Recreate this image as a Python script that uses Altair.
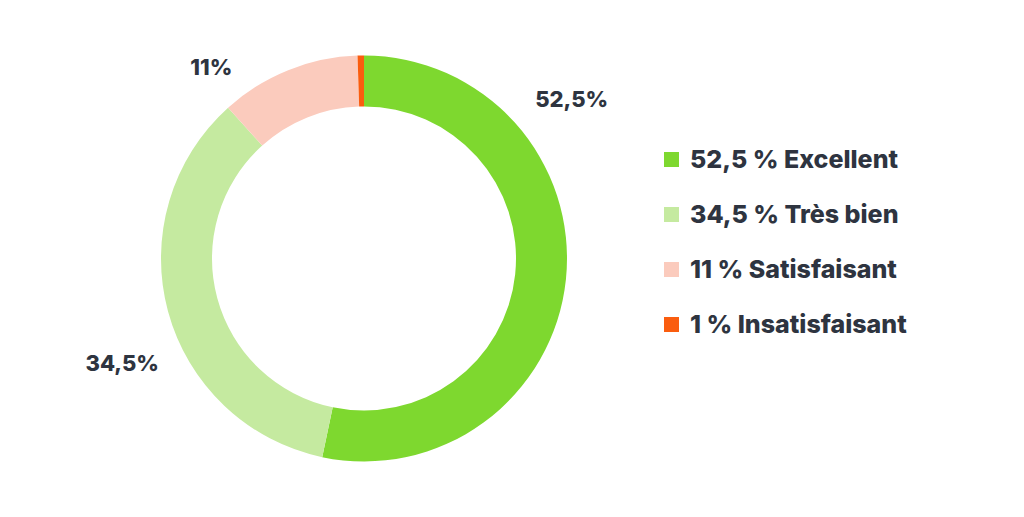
import altair as alt
import pandas as pd

categories = ["Excellent", "Très bien", "Satisfaisant", "Insatisfaisant"]
legend_labels = ["52,5 % Excellent", "34,5 % Très bien", "11 % Satisfaisant", "1 % Insatisfaisant"]
slice_values = [52.5, 34.5, 11, 0.5]
chart_labels = ["52,5%", "34,5%", "11%", ""]
colors = ["#7ed82f", "#c5eaa0", "#fbcbbd", "#fa5d0f"]

df = pd.DataFrame({
    "cat": categories,
    "legend": legend_labels,
    "value": slice_values,
    "label": chart_labels,
    "order": list(range(len(categories))),
})
total = float(sum(slice_values))

FONT = "Inter"
WEIGHT = 800
TEXT_COLOR = "#2e3440"
CX, CY = 356, 250.5

base = alt.Chart(df).transform_stack(
    stack="value", groupby=[], as_=["v0", "v1"], sort=[alt.SortField("order")]
).transform_calculate(mid="(datum.v0 + datum.v1) / 2")

theta_scale = alt.Scale(domain=[0, total])

arc = base.mark_arc(radius=203, innerRadius=152, stroke=None).encode(
    theta=alt.Theta("v0:Q", scale=theta_scale),
    theta2="v1:Q",
    color=alt.Color(
        "legend:N",
        scale=alt.Scale(domain=legend_labels, range=colors),
        sort=legend_labels,
        legend=alt.Legend(
            title=None,
            orient="none",
            legendX=651,
            legendY=139,
            symbolType="square",
            symbolSize=225,
            symbolStrokeWidth=0,
            labelFont=FONT,
            labelFontSize=25,
            labelFontWeight=WEIGHT,
            labelColor=TEXT_COLOR,
            labelOffset=6,
            rowPadding=29,
            labelLimit=400,
        ),
    ),
    x=alt.value(CX),
    y=alt.value(CY),
)

offsets = {"52,5%": (-31, -183), "34,5%": (-10, 43), "11%": (-63, 32)}
texts = []
for lab, (dx, dy) in offsets.items():
    t = base.transform_filter(alt.datum.label == lab).mark_text(
        radius=240, font=FONT, fontSize=22, fontWeight=WEIGHT, color=TEXT_COLOR,
        align="center", baseline="middle", dx=dx, dy=dy,
    ).encode(
        theta=alt.Theta("mid:Q", scale=theta_scale),
        text="label:N",
        x=alt.value(CX),
        y=alt.value(CY),
    )
    texts.append(t)

chart = alt.layer(arc, *texts).properties(
    width=1008, height=501, autosize=alt.AutoSizeParams(type="none"), padding=0
).configure_view(stroke=None)

chart.save("out.html", embed_options={"renderer": "svg", "actions": False})
